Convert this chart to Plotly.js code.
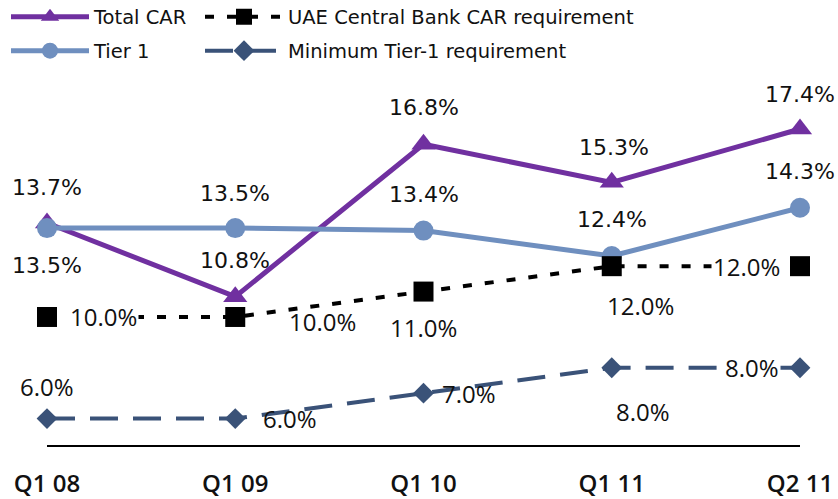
<!DOCTYPE html>
<html>
<head>
<meta charset="utf-8">
<script src="https://cdn.plot.ly/plotly-3.0.1.min.js"></script>
<style>
  html, body { margin: 0; padding: 0; background: #ffffff; }
  #chart { width: 838px; height: 499px; }
</style>
</head>
<body>
<div id="chart"></div>
<script>
// ---- data ----
const categories = ['Q1 08', 'Q1 09', 'Q1 10', 'Q1 11', 'Q2 11'];
const totalCAR = [13.7, 10.8, 16.8, 15.3, 17.4];
const tier1 = [13.5, 13.5, 13.4, 12.4, 14.3];
const cbCARReq = [10.0, 10.0, 11.0, 12.0, 12.0];
const minTier1Req = [6.0, 6.0, 7.0, 8.0, 8.0];

const seriesNames = ['Total CAR', 'Tier 1', 'UAE Central Bank CAR requirement', 'Minimum Tier-1 requirement'];

// ---- styles ----
const C_PURPLE = '#7030A0';
const C_TIER = '#6F8FBF';
const C_CB = '#000000';
const C_MIN = '#3A5278';
const F_MAIN = 'DejaVu Sans, Verdana, sans-serif';
const F_ALT = 'Open Sans, DejaVu Sans, sans-serif';

const W = 838, H = 499, MB = 53;
const PLOT_H = H - MB;
const LEFT_PX = 47, RIGHT_PX = 38;           // first / last category inset
const nCat = categories.length;
const unitPx = (W - LEFT_PX - RIGHT_PX) / (nCat - 1);
const xr = [-LEFT_PX / unitPx, (nCat - 1) + RIGHT_PX / unitPx];

const idx = categories.map((_, i) => i);

const traces = [
  {
    name: seriesNames[0], x: idx, y: totalCAR, type: 'scatter', mode: 'lines+markers',
    line: { color: C_PURPLE, width: 5 },
    marker: { symbol: 'triangle-up', size: 21, color: C_PURPLE },
    legend: 'legend', hoverinfo: 'skip'
  },
  {
    name: seriesNames[1], x: idx, y: tier1, type: 'scatter', mode: 'lines+markers',
    line: { color: C_TIER, width: 5 },
    marker: { symbol: 'circle', size: 20, color: C_TIER },
    legend: 'legend3', hoverinfo: 'skip'
  },
  {
    name: seriesNames[2], x: idx, y: cbCARReq, type: 'scatter', mode: 'lines+markers',
    line: { color: C_CB, width: 4, dash: '9px,13px' },
    marker: { symbol: 'square', size: 20, color: C_CB },
    legend: 'legend2', hoverinfo: 'skip'
  },
  {
    name: seriesNames[3], x: idx, y: minTier1Req, type: 'scatter', mode: 'lines+markers',
    line: { color: C_MIN, width: 4, dash: '28px,15px' },
    marker: { symbol: 'diamond', size: 16, color: C_MIN },
    legend: 'legend4', hoverinfo: 'skip'
  }
];

// label placement offsets (pixels) per point
const offTotal = [[0, 36], [0, 36], [0, 37], [2, 35], [0, 35]];
const offTier = [[0, -37], [0, 35], [0, 36], [0, 37], [0, 36]];
const offCB = [[56, 0], [87, -5], [0, -36], [29, -39], [-54, 0]];
const bgCB = [true, false, false, false, true];
const offMin = [[0, 32], [55, 0], [45, 0], [31, -44], [-48, 0]];
const bgMin = [false, false, false, false, true];

const fmt = v => v.toFixed(1) + '%';
const annotations = [];
function addLabels(vals, offs, font, bgs) {
  vals.forEach((v, i) => {
    annotations.push({
      x: i, y: v, xref: 'x', yref: 'y', text: fmt(v), showarrow: false,
      xanchor: 'center', yanchor: 'middle',
      xshift: offs[i][0], yshift: offs[i][1],
      font: font,
      bgcolor: (bgs && bgs[i]) ? '#ffffff' : 'rgba(0,0,0,0)',
      borderpad: 1
    });
  });
}
addLabels(totalCAR, offTotal, { family: F_MAIN, size: 22, color: '#111111' });
addLabels(tier1, offTier, { family: F_MAIN, size: 22, color: '#111111' });
addLabels(cbCARReq, offCB, { family: F_ALT, size: 24, color: '#111111' }, bgCB);
addLabels(minTier1Req, offMin, { family: F_ALT, size: 24, color: '#111111' }, bgMin);

const legendBase = {
  xref: 'paper', yref: 'paper', xanchor: 'left', yanchor: 'middle',
  bgcolor: 'rgba(0,0,0,0)', borderwidth: 0, itemwidth: 78,
  font: { family: F_MAIN, size: 19.5, color: '#111111' },
  itemclick: false, itemdoubleclick: false
};
const row1 = 1 - 17 / PLOT_H, row2 = 1 - 51 / PLOT_H;
const col1 = 6 / W, col2 = 200 / W;

const layout = {
  width: W, height: H,
  margin: { l: 0, r: 0, t: 0, b: MB, pad: 0, autoexpand: false },
  paper_bgcolor: '#ffffff', plot_bgcolor: '#ffffff',
  showlegend: true,
  legend: Object.assign({}, legendBase, { x: col1, y: row1 }),
  legend3: Object.assign({}, legendBase, { x: col1, y: row2 }),
  legend2: Object.assign({}, legendBase, { x: col2, y: row1 }),
  legend4: Object.assign({}, legendBase, { x: col2, y: row2 }),
  xaxis: {
    type: 'linear', range: xr, autorange: false,
    tickmode: 'array', tickvals: idx, ticktext: categories, tickangle: 0,
    showline: false, ticks: '', showgrid: false, zeroline: false, fixedrange: true,
    automargin: false, ticklabelstandoff: 21,
    tickfont: { family: F_ALT, size: 24, weight: 600, color: '#111111' }
  },
  yaxis: {
    range: [4.92, 22.48], autorange: false, visible: false, fixedrange: true
  },
  shapes: [{
    type: 'line', xref: 'x', yref: 'paper', x0: 0, x1: nCat - 1, y0: 0, y1: 0,
    line: { color: '#000000', width: 2 }
  }],
  annotations: annotations
};

Plotly.newPlot('chart', traces, layout, { displayModeBar: false, staticPlot: true });
</script>
</body>
</html>
